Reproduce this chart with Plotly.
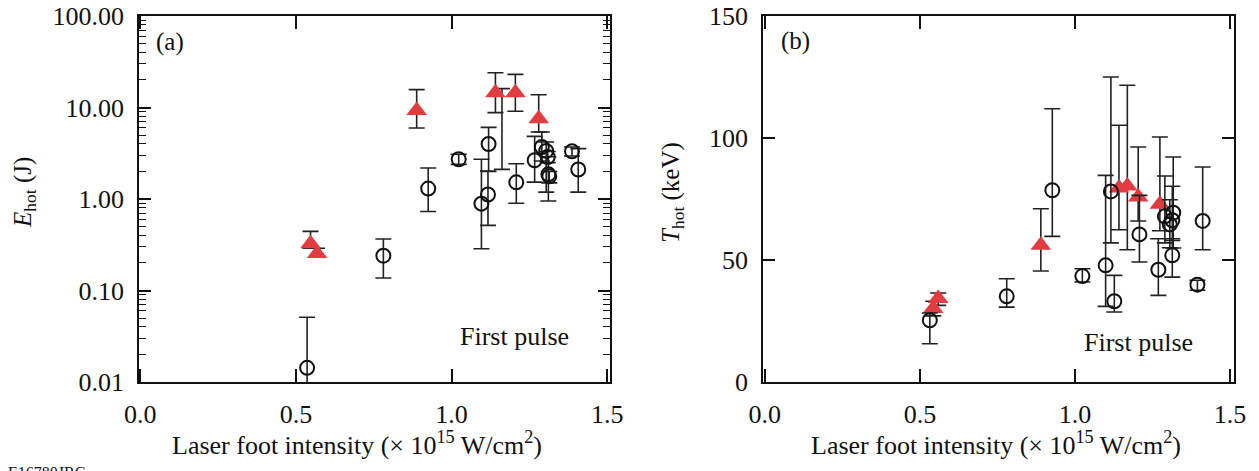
import plotly.graph_objects as go

# ---------------- Data: panel (a) E_hot (J) ----------------
a_circ_x = [0.536, 0.781, 0.925, 1.023, 1.096, 1.117, 1.119, 1.208, 1.267, 1.290, 1.304, 1.309, 1.311, 1.314, 1.387, 1.407]
a_circ_y = [0.0143, 0.24, 1.30, 2.72, 0.89, 1.12, 3.99, 1.52, 2.65, 3.70, 3.35, 2.88, 1.86, 1.77, 3.32, 2.10]
a_circ_hi = [0.051, 0.366, 2.18, 3.08, 2.72, 2.02, 6.07, 2.43, 4.84, 5.4, 4.2, 3.3, 2.9, 2.0, 3.7, 3.55]
a_circ_lo = [0.005, 0.137, 0.73, 2.39, 0.286, 0.515, 2.0, 0.90, 1.53, 2.6, 1.19, 2.5, 0.95, 1.5, 2.95, 1.19]

a_tri_x = [0.547, 0.568, 0.888, 1.162, 1.141, 1.205, 1.280]
a_tri_y = [0.325, 0.253, 9.3, 14.5, 14.5, 14.5, 7.55]
a_tri_hi = [0.443, 0.29, 15.7, 16.1, 24.0, 23.0, 13.8]
a_tri_lo = [0.29, 0.235, 5.97, 2.11, 8.8, 9.1, 5.4]
a_tri_marker_shown = [1, 1, 1, 0, 1, 1, 1]

# ---------------- Data: panel (b) T_hot (keV) ----------------
b_circ_x = [0.532, 0.780, 0.927, 1.024, 1.099, 1.116, 1.127, 1.208, 1.269, 1.290, 1.317, 1.314, 1.306, 1.314, 1.395, 1.412]
b_circ_y = [25.3, 35.1, 78.6, 43.4, 47.8, 78.1, 33.1, 60.5, 46.0, 67.9, 69.4, 66.3, 64.6, 51.9, 39.9, 66.0]
b_circ_hi = [28.3, 42.3, 112.0, 46.4, 84.7, 125.0, 43.7, 76.5, 58.7, 84.4, 92.2, 80.2, 74.7, 58.7, 41.7, 88.1]
b_circ_lo = [15.7, 30.7, 59.7, 41.0, 31.0, 57.0, 28.7, 49.2, 35.5, 57.0, 54.9, 58.0, 55.0, 43.0, 37.6, 54.2]

b_tri_x = [0.543, 0.559, 0.890, 1.142, 1.169, 1.204, 1.274]
b_tri_y = [30.1, 34.2, 56.0, 79.5, 80.3, 75.8, 72.8]
b_tri_hi = [33.1, 36.5, 71.0, 105.2, 121.6, 96.3, 100.4]
b_tri_lo = [27.1, 31.4, 45.5, 62.4, 54.2, 66.0, 62.0]

a_ytick_vals = [0.01, 0.1, 1, 10, 100]
a_ytick_text = ["0.01", "0.10", "1.00", "10.00", "100.00"]
b_ytick_vals = [0, 50, 100, 150]
x_tick_vals = [0.0, 0.5, 1.0, 1.5]
x_tick_text = ["0.0", "0.5", "1.0", "1.5"]

# ---------------- Styling ----------------
OFF = 8                      # page body margin of the html page
W, H = 1259 - OFF, 471 - OFF
RED = "#E23B40"
INK = "#111111"
FONT = "Liberation Serif"


def fx(px):
    return (px - OFF) / W


def fy(py):
    return 1 - (py - OFF) / H


def err(y, hi, lo):
    return dict(type="data", symmetric=False,
                array=[h - v for v, h in zip(y, hi)],
                arrayminus=[v - l for v, l in zip(y, lo)],
                color="#222222", thickness=1.6, width=8)


fig = go.Figure()

fig.add_trace(go.Scatter(x=a_tri_x, y=a_tri_y, mode="markers", xaxis="x", yaxis="y",
                         marker=dict(symbol="triangle-up", size=18, color=RED,
                                     opacity=a_tri_marker_shown, line=dict(width=0)),
                         error_y=err(a_tri_y, a_tri_hi, a_tri_lo), showlegend=False))
fig.add_trace(go.Scatter(x=a_circ_x, y=a_circ_y, mode="markers", xaxis="x", yaxis="y",
                         marker=dict(symbol="circle-open", size=14, color=INK, line=dict(width=2)),
                         error_y=err(a_circ_y, a_circ_hi, a_circ_lo), showlegend=False))
fig.add_trace(go.Scatter(x=b_tri_x, y=b_tri_y, mode="markers", xaxis="x2", yaxis="y2",
                         marker=dict(symbol="triangle-up", size=18, color=RED, line=dict(width=0)),
                         error_y=err(b_tri_y, b_tri_hi, b_tri_lo), showlegend=False))
fig.add_trace(go.Scatter(x=b_circ_x, y=b_circ_y, mode="markers", xaxis="x2", yaxis="y2",
                         marker=dict(symbol="circle-open", size=14, color=INK, line=dict(width=2)),
                         error_y=err(b_circ_y, b_circ_hi, b_circ_lo), showlegend=False))

ydom = [fy(382), fy(16)]
axis_common = dict(showline=True, linecolor=INK, linewidth=1.5, mirror="ticks", showgrid=False,
                   zeroline=False, ticks="inside", tickcolor=INK, tickwidth=1.5, automargin=False,
                   ticklabeloverflow="allow",
                   tickfont=dict(family=FONT, size=26, color=INK))

fig.update_layout(
    template="none",
    width=W, height=H, margin=dict(l=0, r=0, t=0, b=0, pad=0), autosize=False,
    paper_bgcolor="white", plot_bgcolor="white", showlegend=False,
    font=dict(family=FONT, size=26, color=INK),
    xaxis=dict(domain=[fx(139), fx(610)], range=[-0.004, 1.509], anchor="y",
               tickmode="array", tickvals=x_tick_vals, ticktext=x_tick_text, ticklen=13,
               ticklabelstandoff=8, **axis_common),
    yaxis=dict(domain=ydom, type="log", range=[-2, 2], anchor="x",
               tickmode="array", tickvals=a_ytick_vals, ticktext=a_ytick_text, ticklen=12,
               ticklabelstandoff=8,
               minor=dict(tickmode="array",
                          tickvals=[m * 10 ** e for e in range(-2, 2) for m in range(2, 10)],
                          ticks="inside", ticklen=7, tickcolor=INK, tickwidth=1.3, showgrid=False),
               **axis_common),
    xaxis2=dict(domain=[fx(763), fx(1234)], range=[-0.006, 1.513], anchor="y2",
                tickmode="array", tickvals=x_tick_vals, ticktext=x_tick_text, ticklen=13,
                ticklabelstandoff=8, **axis_common),
    yaxis2=dict(domain=ydom, range=[0, 150], anchor="x2",
                tickmode="array", tickvals=b_ytick_vals, ticklen=12,
                ticklabelstandoff=8, **axis_common),
)


def ann(text, px, py, size=26, angle=0, xanchor="center", yanchor="middle"):
    fig.add_annotation(text=text, x=fx(px), y=fy(py), xref="paper", yref="paper",
                       xanchor=xanchor, yanchor=yanchor, showarrow=False, textangle=angle,
                       font=dict(family=FONT, size=size, color=INK))


xtitle = "Laser foot intensity (× 10<sup>15</sup> W/cm<sup>2</sup>)"
ann(xtitle, 357, 443, size=26)
ann(xtitle, 996, 443, size=26)
ann("<i>E</i><sub>hot</sub> (J)", 24, 193, size=25, angle=-90)
ann("<i>T</i><sub>hot</sub> (keV)", 672, 193, size=25, angle=-90)
ann("(a)", 170, 42, size=25)
ann("(b)", 795, 41, size=25)
ann("First pulse", 514, 336, size=26)
ann("First pulse", 1138, 342, size=26)
ann("E16780JRC", 6, 462, size=16, xanchor="left", yanchor="top")

fig.write_html("out.html")
